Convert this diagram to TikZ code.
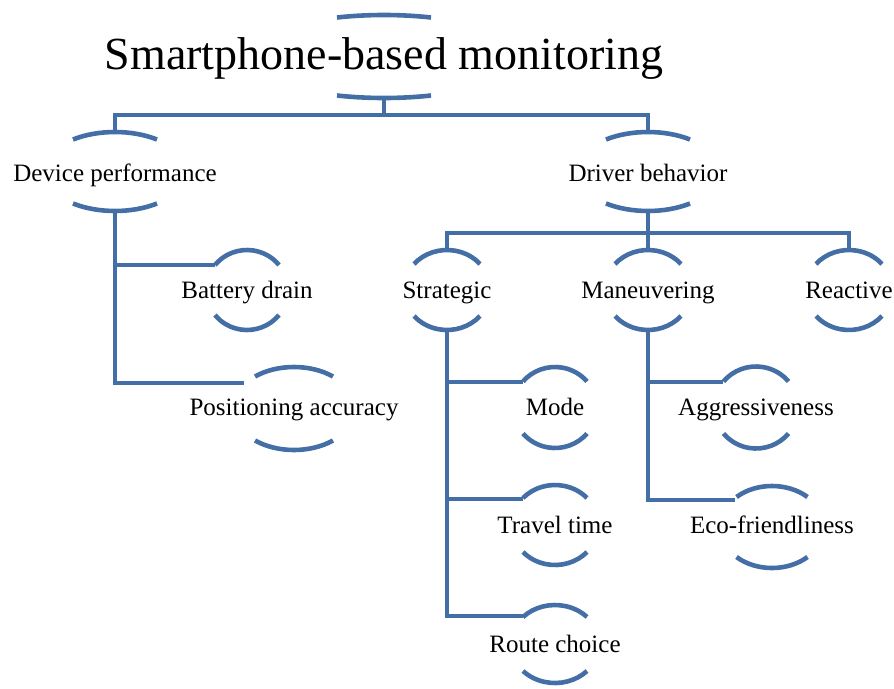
\documentclass[tikz,border=0pt]{standalone}
\usepackage{fontspec}
\setmainfont{Liberation Serif}
\definecolor{capblue}{RGB}{68,111,166}
\tikzset{
  capline/.style={draw=capblue, line width=4.6pt},
  conn/.style={draw=capblue, line width=4.4pt},
  lbl/.style={anchor=base, inner sep=0pt, font=\fontsize{25}{30}\selectfont, text=black},
  rootlbl/.style={anchor=base, inner sep=0pt, font=\fontsize{46}{54}\selectfont, text=black}
}
% name, cx, cy, half chord, apex dist, end dist, baseline, style, text
\newcommand\capnode[9]{%
  \pgfmathsetmacro\capa{#4/sqrt(1-(#6/#5)^2)}%
  \pgfmathsetmacro\capt{acos(#4/\capa)}%
  \draw[capline] (#2-#4,#3-#6) arc[start angle=180+\capt, end angle=360-\capt, x radius=\capa, y radius=#5];
  \draw[capline] (#2+#4,#3+#6) arc[start angle=\capt, end angle=180-\capt, x radius=\capa, y radius=#5];
  \coordinate (#1-t) at (#2,#3-#5);
  \coordinate (#1-b) at (#2,#3+#5);
  \node[#8] (#1) at (#2,#7) {#9};
}
\begin{document}
\begin{tikzpicture}[x=1pt,y=-1pt]
\useasboundingbox (0,0) rectangle (894,688);
\capnode{root}{384}{56.5}{47}{41.5}{39}{69}{rootlbl}{Smartphone-based monitoring}
\capnode{dev}{115}{171.5}{42}{39.5}{32}{181}{lbl}{Device performance}
\capnode{drv}{648}{171.5}{42}{39.5}{32}{181}{lbl}{Driver behavior}
\capnode{bat}{247}{290}{32}{40}{25}{298}{lbl}{Battery drain}
\capnode{str}{447}{290}{33}{40}{26}{298}{lbl}{Strategic}
\capnode{man}{648}{290}{33}{40}{26}{298}{lbl}{Maneuvering}
\capnode{rea}{849}{290}{33}{40}{26}{298}{lbl}{Reactive}
\capnode{pos}{294}{408.5}{39}{41.5}{32}{415}{lbl}{Positioning accuracy}
\capnode{mod}{555}{407.5}{32}{40.5}{26}{415}{lbl}{Mode}
\capnode{agg}{756}{407.5}{32.5}{41}{26}{415}{lbl}{Aggressiveness}
\capnode{tra}{555}{525}{32}{40}{27}{533}{lbl}{Travel time}
\capnode{eco}{772}{527}{35.5}{41}{30}{533}{lbl}{Eco-friendliness}
\capnode{rou}{555}{644}{32}{39}{27}{652}{lbl}{Route choice}
% connector ends
\coordinate (bus1) at (0,115);
\coordinate (bus2) at (0,233);
\coordinate (bat-in) at (215,265);
\coordinate (pos-in) at (244,383);
\coordinate (mod-in) at (523,382);
\coordinate (tra-in) at (523,499);
\coordinate (rou-in) at (523,616);
\coordinate (agg-in) at (723,382);
\coordinate (eco-in) at (735,500);
% connectors
\draw[conn] (root-b) -- (root-b |- bus1);
\draw[conn] (dev-t) -- (dev-t |- bus1) -- (drv-t |- bus1) -- (drv-t);
\draw[conn] (drv-b) -- (drv-b |- bus2);
\draw[conn] (str-t) -- (str-t |- bus2) -- (rea-t |- bus2) -- (rea-t);
\draw[conn] (man-t) -- (man-t |- bus2);
\draw[conn] (dev-b) |- (bat-in);
\draw[conn] (dev-b) |- (pos-in);
\draw[conn] (str-b) |- (mod-in);
\draw[conn] (str-b) |- (tra-in);
\draw[conn] (str-b) |- (rou-in);
\draw[conn] (man-b) |- (agg-in);
\draw[conn] (man-b) |- (eco-in);
\end{tikzpicture}
\end{document}
